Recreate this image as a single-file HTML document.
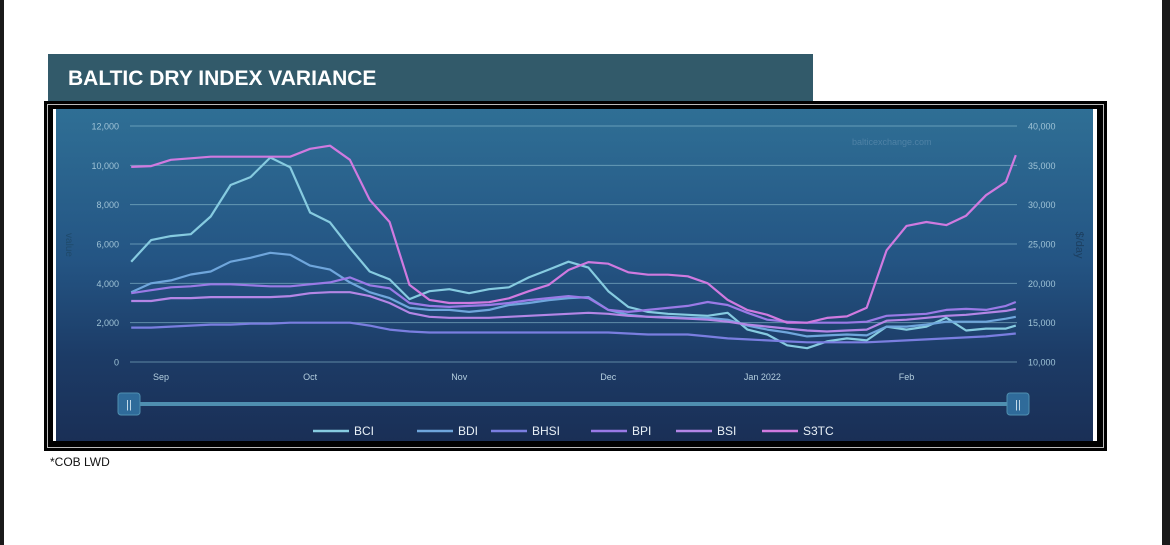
<!DOCTYPE html>
<html><head><meta charset="utf-8">
<style>
body{margin:0;width:1170px;height:545px;background:#fff;position:relative;overflow:hidden;font-family:"Liberation Sans",sans-serif}
#lstrip{position:absolute;left:0;top:0;width:4px;height:545px;background:#1a1a1a}
#rstrip{position:absolute;left:1162px;top:0;width:8px;height:545px;background:#1a1a1a}
#title{position:absolute;left:48px;top:54px;width:765px;height:47px;background:#325a6a;color:#fff;font-weight:bold;font-size:21px;line-height:50px;padding-left:20px;box-sizing:border-box}
#frame{position:absolute;left:44px;top:101px;width:1063px;height:350px;background:#000}
#frame-line{position:absolute;left:3px;top:3px;right:3px;bottom:3px;border:1px solid #bbb}
#chart{position:absolute;left:53px;top:109px;width:1044px;height:332px;border-left:3px solid #fff;border-right:4px solid #fff;box-sizing:border-box;background:linear-gradient(#2f6f95,#245584 45%,#1c3b66 75%,#1a2f56)}
#cob{position:absolute;left:50px;top:455px;font-size:12px;color:#111}
</style></head><body>
<div id="lstrip"></div>
<div id="rstrip"></div>
<div id="title">BALTIC DRY INDEX VARIANCE</div>
<div id="frame"><div id="frame-line"></div></div>
<div id="chart"></div>
<div id="cob">*COB LWD</div>
<svg id="svg" width="1170" height="545" style="position:absolute;left:0;top:0"></svg>
<script>
const days=[-6,-2,2,6,10,14,18,22,26,30,34,38,42,46,50,54,58,62,66,70,74,78,82,86,90,94,98,102,106,110,114,118,122,126,130,134,138,142,146,150,154,158,162,166,170,172];
const bci=[5100,6200,6400,6500,7400,9000,9400,10400,9900,7600,7100,5800,4600,4200,3200,3600,3700,3500,3700,3800,4300,4700,5100,4800,3600,2800,2550,2450,2400,2350,2500,1650,1400,850,700,1050,1200,1100,1800,1650,1800,2250,1600,1700,1700,1850];
const bdi=[3550,4000,4150,4450,4600,5100,5300,5550,5450,4900,4700,4050,3550,3250,2750,2650,2650,2550,2650,2900,3000,3150,3250,3300,2650,2400,2300,2300,2250,2250,2150,1850,1650,1500,1300,1350,1400,1350,1800,1800,1900,2050,2050,2050,2200,2300];
const bhsi=[1750,1750,1800,1850,1900,1900,1950,1950,2000,2000,2000,2000,1850,1650,1550,1500,1500,1500,1500,1500,1500,1500,1500,1500,1500,1450,1400,1400,1400,1300,1200,1150,1100,1050,1000,1000,1000,1000,1050,1100,1150,1200,1250,1300,1400,1450];
const bpi=[3500,3650,3800,3850,3950,3950,3900,3850,3850,3950,4050,4300,3900,3750,3000,2850,2800,2850,2900,3000,3150,3250,3350,3250,2650,2550,2650,2750,2850,3050,2900,2500,2150,2050,2000,2000,2000,2050,2350,2400,2450,2650,2700,2650,2850,3050];
const bsi=[3100,3100,3250,3250,3300,3300,3300,3300,3350,3500,3550,3550,3350,3000,2500,2300,2250,2250,2250,2300,2350,2400,2450,2500,2450,2350,2300,2250,2200,2150,2050,1900,1800,1700,1600,1550,1600,1650,2100,2150,2250,2350,2400,2500,2600,2700];
const s3tc=[34800,34900,35700,35900,36100,36100,36100,36100,36100,37100,37500,35700,30600,27800,19800,17900,17500,17500,17600,18100,19000,19800,21700,22700,22500,21400,21100,21100,20900,20000,17900,16600,16000,15000,15000,15600,15800,16900,24200,27300,27800,27400,28600,31200,32900,36300];
const leftTicks=[0,2000,4000,6000,8000,10000,12000];
const rightTicks=[10000,15000,20000,25000,30000,35000,40000];
const monthLabels=["Sep","Oct","Nov","Dec","Jan 2022","Feb"];
const monthDays=[0,30,60,90,121,150];
const seriesNames=["BCI","BDI","BHSI","BPI","BSI","S3TC"];
const colors=["#86cbe0","#6fa6dc","#7a7ee0","#9a7ae6","#b486e6","#d07ae0"];

const NS="http://www.w3.org/2000/svg";
const svg=document.getElementById('svg');
const X0=130,X1=1017,Y0=362,Y1=126;
const xS=d=>161+d*4.97;
const yL=v=>Y0-(v/12000)*(Y0-Y1);
const yR=v=>Y0-((v-10000)/30000)*(Y0-Y1);
function mk(t,a){const e=document.createElementNS(NS,t);for(const k in a)e.setAttribute(k,a[k]);svg.appendChild(e);return e;}
leftTicks.forEach((v,i)=>{
  const g=mk('line',{x1:X0,x2:X1,y1:yL(v),y2:yL(v),stroke:'rgba(150,200,215,0.55)','stroke-width':1});
  
  
  const t=mk('text',{x:119,y:yL(v)+3.5,'text-anchor':'end','font-size':9,fill:'#9fc3d6'});t.textContent=v.toLocaleString('en-US');
  
  
});
rightTicks.forEach(v=>{
  const t=mk('text',{x:1028,y:yR(v)+3.5,'font-size':9,fill:'#9fc3d6'});t.textContent=v.toLocaleString('en-US');
  
  
});
monthLabels.forEach((m,i)=>{
  const t=mk('text',{x:xS(monthDays[i]),y:380,'text-anchor':'middle','font-size':9,fill:'#b5cfdf'});t.textContent=m;
  
  
});
let t=mk('text',{x:66,y:245,'font-size':10,fill:'#1f4a6b',transform:'rotate(90 66 245)','text-anchor':'middle'});t.textContent='value';


t=mk('text',{x:1076,y:245,'font-size':11,fill:'#1c3f60',transform:'rotate(90 1076 245)','text-anchor':'middle'});t.textContent='$/day';


t=mk('text',{x:852,y:145,'font-size':9,fill:'rgba(120,160,190,0.45)'});t.textContent='balticexchange.com';


const allData=[bci,bdi,bhsi,bpi,bsi,s3tc];
allData.forEach((arr,si)=>{
  const ys=si===5?yR:yL;
  const p=mk('polyline',{points:arr.map((v,i)=>xS(days[i]).toFixed(1)+','+ys(v).toFixed(1)).join(' '),fill:'none',stroke:colors[si],'stroke-width':2.2,'stroke-linejoin':'round'});
  
  
});
let s=mk('rect',{x:128,y:402,width:890,height:4,fill:'#4f8fb0',rx:2});


[129,1018].forEach((cx,i)=>{
  const h=mk('rect',{x:cx-11,y:393,width:22,height:22,rx:3,fill:'#2f6b9a',stroke:'#4f8fb0'});
  
  
  const tt=mk('text',{x:cx,y:408,'text-anchor':'middle','font-size':11,fill:'#cfe3f0'});tt.textContent='||';
});
const legX=[313,417,491,591,676,762];
seriesNames.forEach((n,i)=>{
  const l=mk('line',{x1:legX[i],x2:legX[i]+36,y1:431,y2:431,stroke:colors[i],'stroke-width':2.5});
  
  
  const tx=mk('text',{x:legX[i]+41,y:435,'font-size':12,fill:'#e8f0f6'});tx.textContent=n;
  
  
});
</script>
</body></html>
